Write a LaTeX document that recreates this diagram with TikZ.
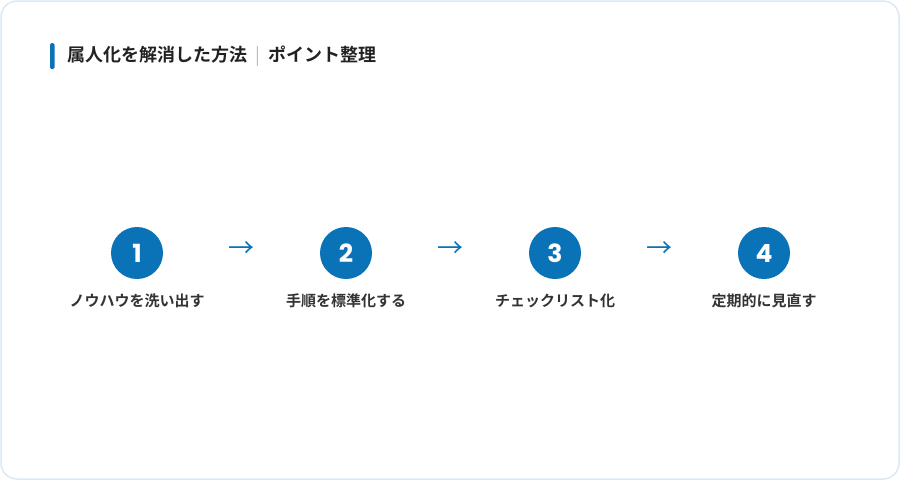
\documentclass[tikz,border=0pt]{standalone}
\usepackage{fontspec}
\newfontfamily\jpb{Noto Sans CJK JP Bold}
\newfontfamily\jp{Noto Sans CJK JP}
\newfontfamily\numf{Poppins Bold}
\definecolor{mainblue}{HTML}{0A73B7}
\definecolor{framec}{HTML}{DCE8F3}
\definecolor{titlec}{HTML}{222222}
\definecolor{labelc}{HTML}{333333}
\definecolor{sepc}{HTML}{BBBBBB}
\begin{document}
\begin{tikzpicture}[x=1pt,y=-1pt,
  stepcircle/.style={circle,fill=mainblue,minimum size=52pt,inner sep=0pt,text=white,font=\numf\fontsize{25}{25}\selectfont},
  steplabel/.style={text=labelc,font=\jpb\fontsize{15}{15}\selectfont,inner sep=0pt},
  arrowglyph/.style={text=mainblue,font=\jp\fontsize{26}{26}\selectfont,inner sep=0pt}]
\useasboundingbox (0,0) rectangle (900,480);
\draw[framec,line width=1.5pt,rounded corners=16pt] (1,1) rectangle (899,479);
\fill[mainblue,rounded corners=1.5pt] (50,43) rectangle (54.5,69);
\node[anchor=west,inner sep=0pt,text=titlec,font=\jpb\fontsize{18}{18}\selectfont] (title) at (67,56)
  {属人化を解消した方法\hspace{8pt}{\color{sepc}\jp|}\hspace{8pt}ポイント整理};
\foreach \i/\x/\t in {1/137/ノウハウを洗い出す,2/346/手順を標準化する,3/555/チェックリスト化,4/764/定期的に見直す}{
  \node[stepcircle] (c\i) at (\x,253) {\i};
  \node[steplabel] (l\i) at (\x,301) {\t};
}
\foreach \i/\x in {1/241,2/450,3/659}{
  \node[arrowglyph] (a\i) at (\x,250) {→};
}
\end{tikzpicture}
\end{document}
